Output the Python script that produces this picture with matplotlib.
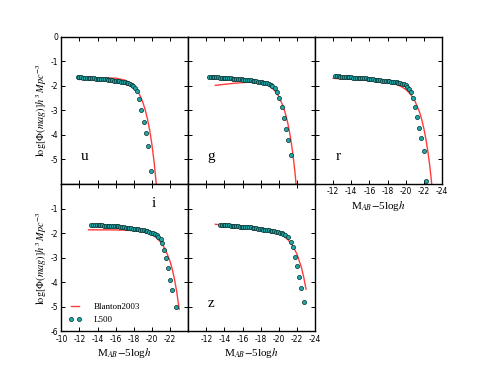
import matplotlib
matplotlib.use('Agg')
import matplotlib.pyplot as plt

# ---- L500 luminosity functions ----
u_x = [-11.8, -12.0, -12.2, -12.4, -12.6, -12.8, -13.0, -13.2, -13.4, -13.6, -13.8, -14.0,
       -14.2, -14.4, -14.6, -14.8, -15.0, -15.2, -15.4, -15.6, -15.8, -16.0, -16.2, -16.4,
       -16.6, -16.8, -17.0, -17.2, -17.4, -17.6, -17.8, -17.95, -18.15, -18.33, -18.55,
       -18.8, -19.08, -19.32, -19.54, -19.84]
u_y = [-1.645, -1.65, -1.655, -1.66, -1.665, -1.67, -1.675, -1.68, -1.685, -1.69, -1.70, -1.70,
       -1.71, -1.715, -1.72, -1.73, -1.74, -1.75, -1.76, -1.775, -1.785, -1.79, -1.80, -1.815,
       -1.825, -1.84, -1.855, -1.87, -1.89, -1.92, -1.95, -1.99, -2.08, -2.22, -2.52,
       -2.98, -3.47, -3.94, -4.45, -5.48]

g_x = [-12.3, -12.5, -12.7, -12.9, -13.1, -13.3, -13.5, -13.7, -13.9, -14.1, -14.3, -14.5,
       -14.7, -14.9, -15.1, -15.3, -15.5, -15.7, -15.9, -16.1, -16.3, -16.5, -16.7, -16.9,
       -17.1, -17.3, -17.5, -17.7, -17.9, -18.1, -18.3, -18.5, -18.7, -18.9, -19.1, -19.3,
       -19.55, -19.8, -20.07, -20.31, -20.55, -20.8, -21.06, -21.32]
g_y = [-1.62, -1.63, -1.64, -1.645, -1.65, -1.655, -1.66, -1.665, -1.67, -1.675, -1.68, -1.69,
       -1.695, -1.70, -1.705, -1.71, -1.72, -1.72, -1.73, -1.75, -1.76, -1.765, -1.77, -1.78,
       -1.795, -1.805, -1.815, -1.825, -1.835, -1.85, -1.865, -1.88, -1.90, -1.93, -1.97, -2.02,
       -2.10, -2.24, -2.49, -2.88, -3.31, -3.75, -4.20, -4.83]

r_x = [-12.2, -12.4, -12.6, -12.8, -13.0, -13.2, -13.4, -13.6, -13.8, -14.0, -14.2, -14.4,
       -14.6, -14.8, -15.0, -15.2, -15.4, -15.6, -15.8, -16.0, -16.2, -16.4, -16.6, -16.8,
       -17.0, -17.2, -17.4, -17.6, -17.8, -18.0, -18.2, -18.4, -18.6, -18.8, -19.0, -19.2,
       -19.4, -19.6, -19.8, -20.0, -20.2, -20.4,
       -20.55, -20.78, -21.05, -21.28, -21.51, -21.74, -22.0, -22.24]
r_y = [-1.60, -1.61, -1.615, -1.62, -1.63, -1.635, -1.64, -1.645, -1.65, -1.655, -1.66, -1.665,
       -1.67, -1.675, -1.68, -1.685, -1.69, -1.695, -1.70, -1.705, -1.71, -1.73, -1.755, -1.77,
       -1.775, -1.78, -1.785, -1.79, -1.80, -1.81, -1.82, -1.83, -1.84, -1.85, -1.86, -1.875,
       -1.89, -1.91, -1.94, -1.98, -2.04, -2.12,
       -2.27, -2.51, -2.86, -3.27, -3.70, -4.11, -4.67, -5.89]

i_x = [-13.3, -13.5, -13.7, -13.9, -14.1, -14.3, -14.5, -14.7, -14.9, -15.1, -15.3, -15.5,
       -15.7, -15.9, -16.1, -16.3, -16.5, -16.7, -16.9, -17.1, -17.3, -17.5, -17.7, -17.9,
       -18.1, -18.3, -18.5, -18.7, -18.9, -19.1, -19.3, -19.5, -19.7, -19.9, -20.1, -20.3,
       -20.5, -20.7, -20.95, -21.11, -21.32, -21.54, -21.76, -21.98, -22.25, -22.65]
i_y = [-1.66, -1.665, -1.67, -1.675, -1.68, -1.685, -1.69, -1.695, -1.70, -1.705, -1.71, -1.715,
       -1.72, -1.72, -1.725, -1.73, -1.735, -1.75, -1.77, -1.785, -1.795, -1.80, -1.81, -1.82,
       -1.83, -1.84, -1.85, -1.86, -1.875, -1.89, -1.91, -1.935, -1.955, -1.98, -2.01, -2.04,
       -2.09, -2.16, -2.24, -2.39, -2.70, -3.03, -3.44, -3.90, -4.31, -5.01]

z_x = [-13.5, -13.7, -13.9, -14.1, -14.3, -14.5, -14.7, -14.9, -15.1, -15.3, -15.5, -15.7,
       -15.9, -16.1, -16.3, -16.5, -16.7, -16.9, -17.1, -17.3, -17.5, -17.7, -17.9, -18.1,
       -18.3, -18.5, -18.7, -18.9, -19.1, -19.3, -19.5, -19.7, -19.9, -20.1, -20.3, -20.5,
       -20.7, -21.0, -21.3, -21.52, -21.75, -22.0, -22.25, -22.5, -22.77]
z_y = [-1.66, -1.665, -1.67, -1.68, -1.685, -1.69, -1.70, -1.705, -1.715, -1.72, -1.73, -1.735,
       -1.74, -1.745, -1.75, -1.755, -1.76, -1.77, -1.78, -1.79, -1.81, -1.83, -1.84, -1.85,
       -1.86, -1.87, -1.88, -1.89, -1.90, -1.915, -1.93, -1.945, -1.96, -1.98, -2.00, -2.03,
       -2.07, -2.17, -2.35, -2.58, -2.96, -3.36, -3.80, -4.22, -4.80]

# ---- Blanton2003 curves ----
bu_x = [-12.0, -13.0, -14.0, -15.0, -16.0, -17.0, -17.5, -18.0, -18.5, -18.75, -19.0, -19.25,
        -19.5, -19.75, -20.0, -20.25, -20.5]
bu_y = [-1.743, -1.714, -1.689, -1.674, -1.686, -1.765, -1.857, -2.012, -2.267, -2.449, -2.681,
        -2.974, -3.345, -3.815, -4.408, -5.156, -6.10]
bg_x = [-13.0, -14.0, -15.0, -16.0, -17.0, -18.0, -18.5, -19.0, -19.5, -20.0, -20.5, -20.75,
        -21.0, -21.25, -21.5, -21.65, -21.8, -22.0]
bg_y = [-1.979, -1.937, -1.898, -1.865, -1.850, -1.879, -1.927, -2.017, -2.173, -2.432, -2.855,
        -3.157, -3.539, -4.024, -4.636, -5.08, -5.588, -6.388]
br_x = [-12.0, -13.0, -14.0, -15.0, -16.0, -17.0, -18.0, -19.0, -19.5, -20.0, -20.5, -21.0,
        -21.5, -21.75, -22.0, -22.25, -22.5, -22.65, -22.8, -23.0]
br_y = [-1.693, -1.714, -1.734, -1.756, -1.780, -1.811, -1.859, -1.948, -2.026, -2.143, -2.322,
        -2.600, -3.036, -3.340, -3.720, -4.198, -4.799, -5.231, -5.726, -6.503]
bi_x = [-13.0, -14.0, -15.0, -16.0, -17.0, -18.0, -19.0, -19.5, -20.0, -20.5, -21.0, -21.5,
        -22.0, -22.25, -22.5, -22.75, -23.0]
bi_y = [-1.868, -1.869, -1.870, -1.873, -1.881, -1.900, -1.949, -1.997, -2.072, -2.191, -2.381,
        -2.681, -3.156, -3.489, -3.909, -4.437, -5.102]
bz_x = [-13.0, -14.0, -15.0, -16.0, -17.0, -18.0, -19.0, -20.0, -20.5, -21.0, -21.5, -22.0,
        -22.5, -22.75, -23.0]
bz_y = [-1.643, -1.676, -1.709, -1.743, -1.780, -1.826, -1.893, -2.014, -2.115, -2.267, -2.498,
        -2.855, -3.412, -3.799, -4.285]

bands = ["u", "g", "r", "i", "z"]
sim = [(u_x, u_y), (g_x, g_y), (r_x, r_y), (i_x, i_y), (z_x, z_y)]
fits = [(bu_x, bu_y), (bg_x, bg_y), (br_x, br_y), (bi_x, bi_y), (bz_x, bz_y)]
slots = [(0, 0), (0, 1), (0, 2), (1, 0), (1, 1)]

plt.rcParams['mathtext.fontset'] = 'stix'
serif = 'Liberation Serif'

xt = list(range(-10, -25, -2))
yt = list(range(-6, 1))
ylab = r'$\log[\Phi(mag)]h^3\,Mpc^{-3}$'
xlab = r'M$_{AB}$$-$5log$h$'

fig, axes = plt.subplots(2, 3, figsize=(4.91, 3.68), dpi=100)
plt.subplots_adjust(left=0.125, right=0.9, bottom=0.1, top=0.9, wspace=0, hspace=0)
axes[1, 2].axis('off')

for k, band in enumerate(bands):
    ax = axes[slots[k]]
    ax.plot(fits[k][0], fits[k][1], color='#ff3b3b', lw=1.0, label='Blanton2003')
    ax.plot(sim[k][0], sim[k][1], ls='none', marker='o', ms=3.0,
            mfc='#1fa8a8', mec='#0b2f2f', mew=0.5, label='L500')
    ax.set_xlim(-10, -24)
    ax.set_ylim(-6, 0)
    ax.set_xticks(xt)
    ax.set_yticks(yt)
    ax.set_xticklabels([])
    ax.set_yticklabels([])
    ax.tick_params(direction='in', top=True, right=True, length=3, width=0.7,
                   labelsize=5.5, pad=2.5)
    for s in ax.spines.values():
        s.set_linewidth(1.0)
    if band == 'i':
        ax.text(0.73, 0.865, band, transform=ax.transAxes, fontsize=11,
                family=serif, ha='center', va='center')
    else:
        ax.text(0.18, 0.19, band, transform=ax.transAxes, fontsize=11,
                family=serif, ha='center', va='center')

# tick labels only where the original shows them
axes[0, 0].set_yticklabels([''] + [str(v) for v in yt[1:]])
axes[1, 0].set_yticklabels([str(v) for v in yt[:-1]] + [''])
axes[1, 0].set_xticklabels([str(v) for v in xt[:-1]] + [''])
axes[1, 1].set_xticklabels([''] + [str(v) for v in xt[1:]])
axes[0, 2].set_xticklabels([''] + [str(v) for v in xt[1:]])

for ax in [axes[0, 0], axes[1, 0]]:
    ax.set_ylabel(ylab, fontsize=7.5, labelpad=1)
for ax in [axes[0, 2], axes[1, 0], axes[1, 1]]:
    ax.set_xlabel(xlab, fontsize=8, family=serif, labelpad=2)

axes[1, 0].legend(loc='lower left', frameon=False, numpoints=2,
                  prop={'family': serif, 'size': 6.5}, borderaxespad=0.4,
                  handlelength=1.5, handletextpad=1.3)

plt.savefig("out.png", dpi=100)
